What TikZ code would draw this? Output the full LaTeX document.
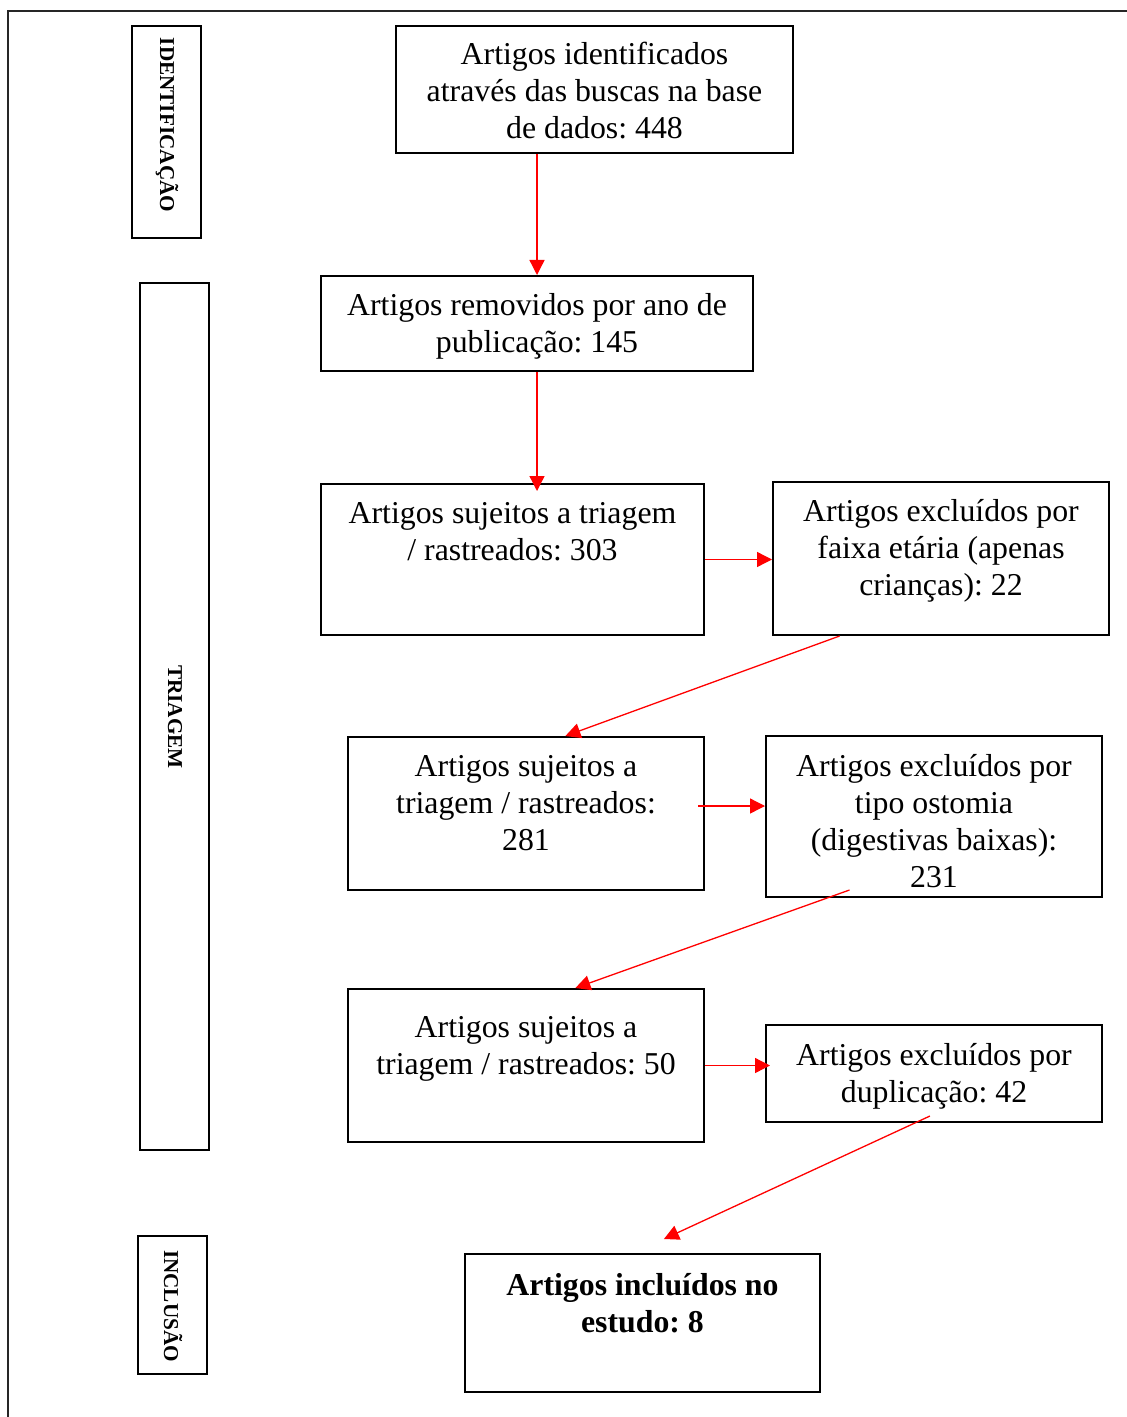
\documentclass[tikz,border=0pt]{standalone}
\usepackage{fontspec}
\setmainfont{Liberation Serif}
\usetikzlibrary{arrows.meta,calc,fit}
\begin{document}
\frenchspacing
\begin{tikzpicture}[x=0.5pt,y=-0.5pt,
  box/.style={draw=black,line width=1pt,inner sep=0pt},
  txt/.style={font=\fontsize{15.9}{18.5}\selectfont,align=center,inner sep=0pt,anchor=north},
  side/.style={font=\bfseries\fontsize{10.6}{12}\selectfont,rotate=-90,inner sep=0pt},
  arr/.style={draw=red,line width=0.65pt,-{Triangle[length=7.5pt,width=7.5pt]}},
  frameline/.style={draw=black!85,line width=1.3pt}]
\useasboundingbox (0,0) rectangle (1127,1417);
% outer frame (cropped at right and bottom)
\coordinate (fr1) at (1127,11);
\coordinate (fr2) at (8,11);
\coordinate (fr3) at (8,1417);
\draw[frameline] (fr1) -- (fr2) -- (fr3);

% side labels
\node[box,fit={(132,26) (201,238)}] (sb1) {};
\node[side] (s1) at (167,125) {IDENTIFICAÇÃO};
\node[box,fit={(140,283) (209,1150)}] (sb2) {};
\node[side] (s2) at (175,717) {TRIAGEM};
\node[box,fit={(138,1236) (207,1374)}] (sb3) {};
\node[side] (s3) at (173,1306) {INCLUSÃO};

% boxes
\node[box,fit={(396,26) (793,153)}] (b1) {};
\node[box,fit={(321,276) (753,371)}] (b2) {};
\node[box,fit={(321,484) (704,635)}] (b3) {};
\node[box,fit={(773,482) (1109,635)}] (b4) {};
\node[box,fit={(348,737) (704,890)}] (b5) {};
\node[box,fit={(766,736) (1102,897)}] (b6) {};
\node[box,fit={(348,989) (704,1142)}] (b7) {};
\node[box,fit={(766,1025) (1102,1122)}] (b8) {};
\node[box,fit={(465,1254) (820,1392)}] (b9) {};

% texts
\node[txt] (t1) at (594.5,38) {\rule{0pt}{13pt}Artigos identificados\\através das buscas na base\\de dados: 448};
\node[txt] (t2) at (537,289) {\rule{0pt}{13pt}Artigos removidos por ano de\\publicação: 145};
\node[txt] (t3) at (512.5,497) {\rule{0pt}{13pt}Artigos sujeitos a triagem\\/ rastreados: 303};
\node[txt] (t4) at (941,495) {\rule{0pt}{13pt}Artigos excluídos por\\faixa etária (apenas\\crianças): 22};
\node[txt] (t5) at (526,750) {\rule{0pt}{13pt}Artigos sujeitos a\\triagem / rastreados:\\281};
\node[txt] (t6) at (934,750) {\rule{0pt}{13pt}Artigos excluídos por\\tipo ostomia\\(digestivas baixas):\\231};
\node[txt] (t7) at (526,1011) {\rule{0pt}{13pt}Artigos sujeitos a\\triagem / rastreados: 50};
\node[txt] (t8) at (934,1039) {\rule{0pt}{13pt}Artigos excluídos por\\duplicação: 42};
\node[txt,font=\bfseries\fontsize{15.9}{18.5}\selectfont] (t9) at (642.5,1269) {\rule{0pt}{13pt}Artigos incluídos no\\estudo: 8};

% connectors
\draw[arr] (b1.south -| b2.north) -- (b2.north);
\draw[arr] (b2.south) -- ($(b2.south |- b3.north)+(0,8)$);
\draw[arr] (b3.east) -- (b3.east -| b4.west);
\draw[arr] ($(b4.south west)!0.2!(b4.south east)$) -- ($(b5.north west)!0.61!(b5.north east)$);
\draw[arr] ($(b5.east)+(-7,-7.5)$) -- ($(b5.east -| b6.west)+(0,-7.5)$);
\draw[arr] ($(b6.south west)!0.25!(b6.south east)+(0,-8)$) -- ($(b7.north west)!0.638!(b7.north east)$);
\draw[arr] (b7.east) -- ($(b7.east -| b8.west)+(5,0)$);
\draw[arr] ($(b8.south west)!0.488!(b8.south east)+(0,-7)$) -- ($(b9.north west)!0.56!(b9.north east)+(0,-14)$);
\end{tikzpicture}
\end{document}
